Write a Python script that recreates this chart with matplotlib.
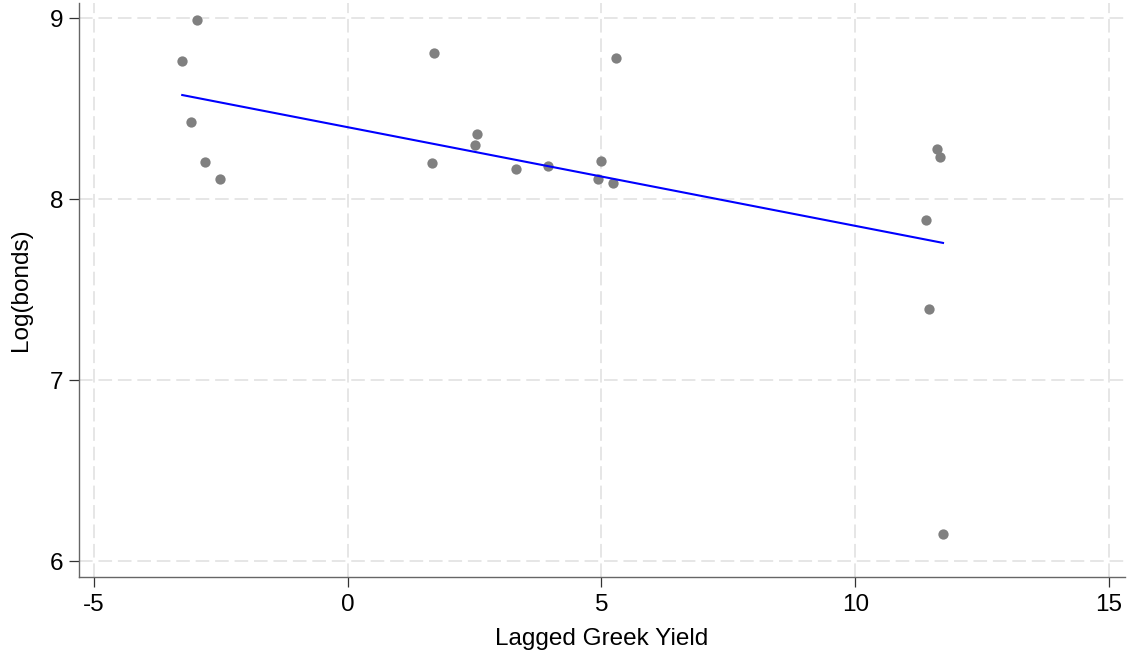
import matplotlib
matplotlib.use("Agg")
import matplotlib.pyplot as plt
import numpy as np

# lagged yield vs log of bonds outstanding
lag_yield = [-3.26, -2.96, -3.08, -2.81, -2.52,
             1.71, 1.66, 2.55, 2.50, 3.31, 3.94, 5.00, 4.94, 5.23, 5.28,
             11.62, 11.68, 11.40, 11.45, 11.73]
log_bonds = [8.762, 8.989, 8.425, 8.204, 8.110,
             8.808, 8.197, 8.357, 8.300, 8.164, 8.182, 8.212, 8.110, 8.088, 8.779,
             8.278, 8.234, 7.882, 7.391, 6.147]

# linear fit coefficients
fit_intercept = 8.397
fit_slope = -0.0545

plt.rcParams['font.family'] = ['Liberation Sans', 'DejaVu Sans']
plt.rcParams['axes.unicode_minus'] = False

fig = plt.figure(figsize=(11.28, 6.54), dpi=100)
ax = fig.add_axes([0.070, 0.1177, 0.9273, 0.8777])

ax.scatter(lag_yield, log_bonds, s=55, color='#808080', zorder=3, linewidths=0)

xf = np.array([min(lag_yield), max(lag_yield)])
ax.plot(xf, fit_intercept + fit_slope * xf, color='#0000ff', lw=1.5, zorder=4)

ax.set_xlim(-5.295, 15.315)
ax.set_ylim(5.912, 9.083)
ax.set_xticks([-5, 0, 5, 10, 15])
ax.set_yticks([6, 7, 8, 9])

ax.grid(True, color='#e6e6e6', lw=1.4, ls=(0, (7, 3)))
ax.set_axisbelow(True)

for s in ['top', 'right']:
    ax.spines[s].set_visible(False)
for s in ['left', 'bottom']:
    ax.spines[s].set_color('#666666')
    ax.spines[s].set_linewidth(1.0)

ax.tick_params(axis='both', length=7, width=0.9, color='#333333',
               labelsize=17.5, labelcolor='black')
ax.tick_params(axis='x', pad=5)
ax.tick_params(axis='y', pad=4)

ax.set_xlabel('Lagged Greek Yield', fontsize=17.5, labelpad=9)
ax.set_ylabel('Log(bonds)', fontsize=17.5, labelpad=13)

fig.savefig('out.png', dpi=100)
